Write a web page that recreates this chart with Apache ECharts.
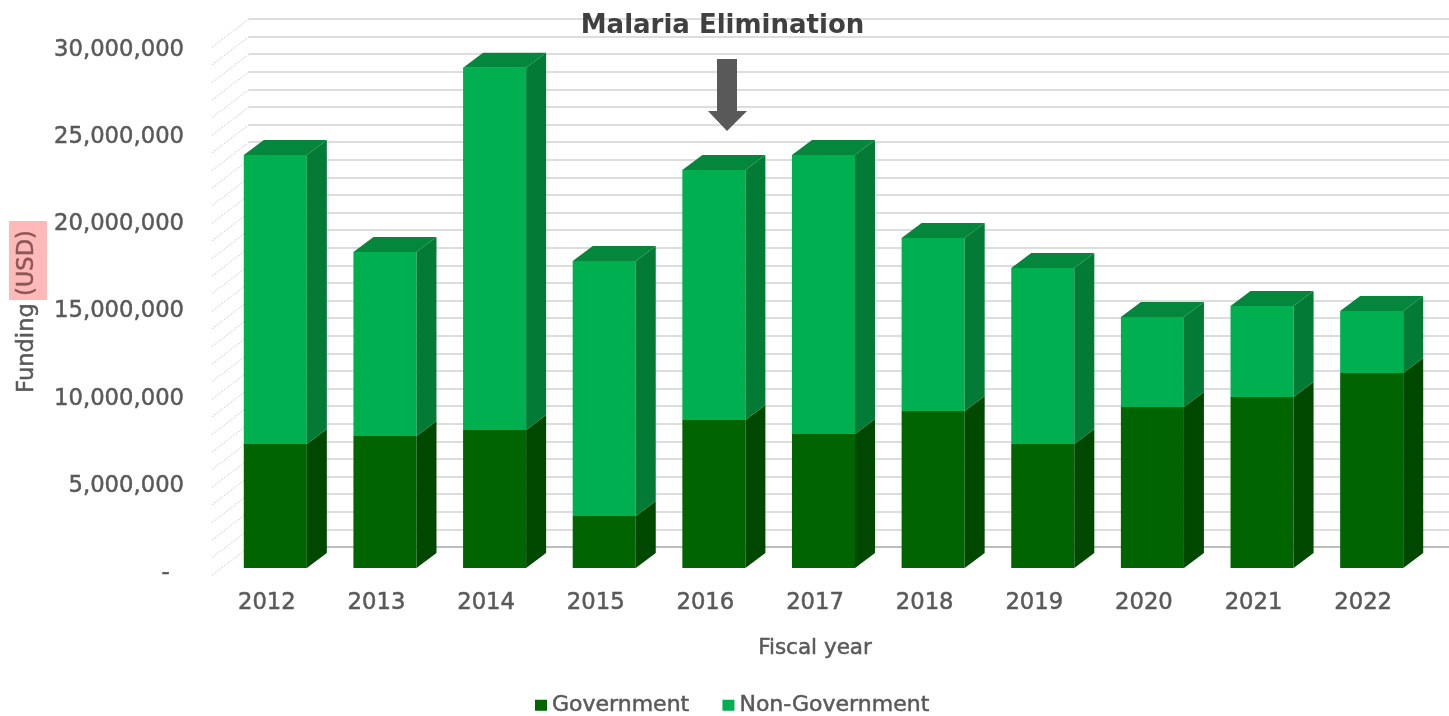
<!DOCTYPE html>
<html>
<head>
<meta charset="utf-8">
<style>html,body{margin:0;padding:0;background:#fff}#c{width:1449px;height:716px;filter:blur(0.45px)}</style>
<script src="https://cdn.jsdelivr.net/npm/echarts@6/dist/echarts.min.js"></script>
</head>
<body>
<div id="c"></div>
<script>
const years = ['2012','2013','2014','2015','2016','2017','2018','2019','2020','2021','2022'];
const government = [7110000,7570000,7920000,2980000,8490000,7690000,9010000,7110000,9240000,9810000,11190000];
const nonGovernment = [16580000,10560000,20770000,14630000,14340000,16000000,9920000,10100000,5160000,5220000,3550000];
const wallTicks = [0,1,2,3,4,5,6,7,8,9,10,11,12,13,14,15,16,17,18,19,20,21,22,23,24,25,26,27,28,29,30];

const DEPTH_X = 20, DEPTH_Y = 15, BAR_RATIO = 0.575, BAR_SHIFT = 8.5, BASE_SHIFT = -5;
const FONT = '"DejaVu Sans", Verdana, sans-serif';
const THICK = { textBorderColor: '#595959', textBorderWidth: 0.5 };

function bar3d(front, side, top) {
  return function (params, api) {
    const i = api.value(0);
    const a = api.coord([i, api.value(1)]);
    const b = api.coord([i, api.value(2)]);
    const w = api.size([1, 0])[0] * BAR_RATIO;
    const l = a[0] + BAR_SHIFT - w / 2, r = l + w;
    const y0 = a[1] + BASE_SHIFT, y1 = b[1] + BASE_SHIFT;
    const kids = [
      { type: 'rect', shape: { x: l, y: y1, width: w, height: y0 - y1 }, style: { fill: front } },
      { type: 'polygon', shape: { points: [[r, y1], [r + DEPTH_X, y1 - DEPTH_Y], [r + DEPTH_X, y0 - DEPTH_Y], [r, y0]] }, style: { fill: side } }
    ];
    if (top) kids.push({ type: 'polygon', shape: { points: [[l, y1], [l + DEPTH_X, y1 - DEPTH_Y], [r + DEPTH_X, y1 - DEPTH_Y], [r, y1]] }, style: { fill: top } });
    return { type: 'group', children: kids };
  };
}

const govData = years.map((y, i) => [i, 0, government[i]]);
const nonData = years.map((y, i) => [i, government[i], government[i] + nonGovernment[i]]);

const chart = echarts.init(document.getElementById('c'), null, { renderer: 'canvas' });
chart.setOption({
  animation: false,
  backgroundColor: '#ffffff',
  textStyle: { fontFamily: FONT },
  title: {
    text: 'Malaria Elimination', left: 717.5, top: 8, textAlign: 'center',
    textStyle: { fontFamily: FONT, fontSize: 26, fontWeight: 'bold', color: '#404040' }
  },
  legend: {
    left: 530, top: 689, itemWidth: 12, itemHeight: 11, itemGap: 33, icon: 'rect',
    textStyle: { fontFamily: FONT, fontSize: 22, color: '#595959', ...THICK },
    data: ['Government', 'Non-Government']
  },
  grid: [
    { left: 212, width: 1206, top: 50, height: 523, outerBoundsMode: 'none' },
    { left: 249, width: 1200, top: 19, height: 528, outerBoundsMode: 'none' }
  ],
  xAxis: [
    {
      type: 'category', gridIndex: 0, data: years,
      axisLine: { show: false }, axisTick: { show: false },
      axisLabel: { fontFamily: FONT, fontSize: 22.7, color: '#595959', margin: 19, ...THICK },
      name: 'Fiscal year', nameLocation: 'middle', nameGap: 64,
      nameTextStyle: { fontFamily: FONT, fontSize: 21.5, color: '#595959', ...THICK }
    },
    {
      type: 'value', gridIndex: 1, min: 0, max: 1,
      axisLine: { show: true, lineStyle: { color: '#bdbdbd', width: 2 } },
      axisTick: { show: false }, axisLabel: { show: false }, splitLine: { show: false }
    }
  ],
  yAxis: [
    {
      type: 'value', gridIndex: 0, min: 0, max: 30000000, interval: 5000000,
      axisLine: { show: false }, axisTick: { show: false }, splitLine: { show: false },
      axisLabel: {
        fontFamily: FONT, fontSize: 22.7, color: '#595959', margin: 28, ...THICK,
        formatter: v => v === 0 ? '-\u00a0\u00a0' : v.toLocaleString('en-US')
      },
      name: 'Funding {h|(USD)}', nameLocation: 'middle', nameGap: 173, nameRotate: 90,
      nameTextStyle: {
        fontFamily: FONT, fontSize: 22.6, color: '#595959', ...THICK,
        rich: { h: { fontFamily: FONT, fontSize: 22.6, color: '#8a5656', textBorderColor: '#8a5656', textBorderWidth: 0.5 } }
      }
    },
    {
      type: 'value', gridIndex: 1, min: 0, max: 30000000, interval: 1000000,
      axisLine: { show: false }, axisTick: { show: false }, axisLabel: { show: false },
      splitLine: { show: true, lineStyle: { color: '#d2d2d2', width: 1.5 } }
    }
  ],
  graphic: [
    { type: 'rect', z: -1, silent: true, shape: { x: 9, y: 221, width: 38, height: 79 }, style: { fill: '#ffb9b9' } },
    { type: 'polygon', z: 50, silent: true, shape: { points: [[717,59],[737,59],[737,111],[747,111],[727,131],[708,111],[717,111]] }, style: { fill: '#595959' } }
  ],
  series: [
    {
      name: 'LeftWall', type: 'custom', xAxisIndex: 1, yAxisIndex: 1, silent: true, clip: false, z: 1,
      data: wallTicks.map(t => [t * 1000000]),
      encode: { y: 0 },
      renderItem(params, api) {
        const p = api.coord([0, api.value(0)]);
        return { type: 'line', shape: { x1: p[0], y1: p[1], x2: p[0] - 38, y2: p[1] + 29 },
          style: { stroke: '#d9d9d9', lineWidth: 1.2, lineDash: [1.5, 1.5] } };
      }
    },
    {
      name: 'Government', type: 'custom', xAxisIndex: 0, yAxisIndex: 0, clip: false, z: 3,
      itemStyle: { color: '#006400' },
      data: govData, encode: { x: 0, y: [1, 2] },
      renderItem: bar3d('#006400', '#004700', null)
    },
    {
      name: 'Non-Government', type: 'custom', xAxisIndex: 0, yAxisIndex: 0, clip: false, z: 3,
      itemStyle: { color: '#00B050' },
      data: nonData, encode: { x: 0, y: [1, 2] },
      renderItem: bar3d('#00B050', '#037A36', '#04863C')
    }
  ]
});
</script>
</body>
</html>
